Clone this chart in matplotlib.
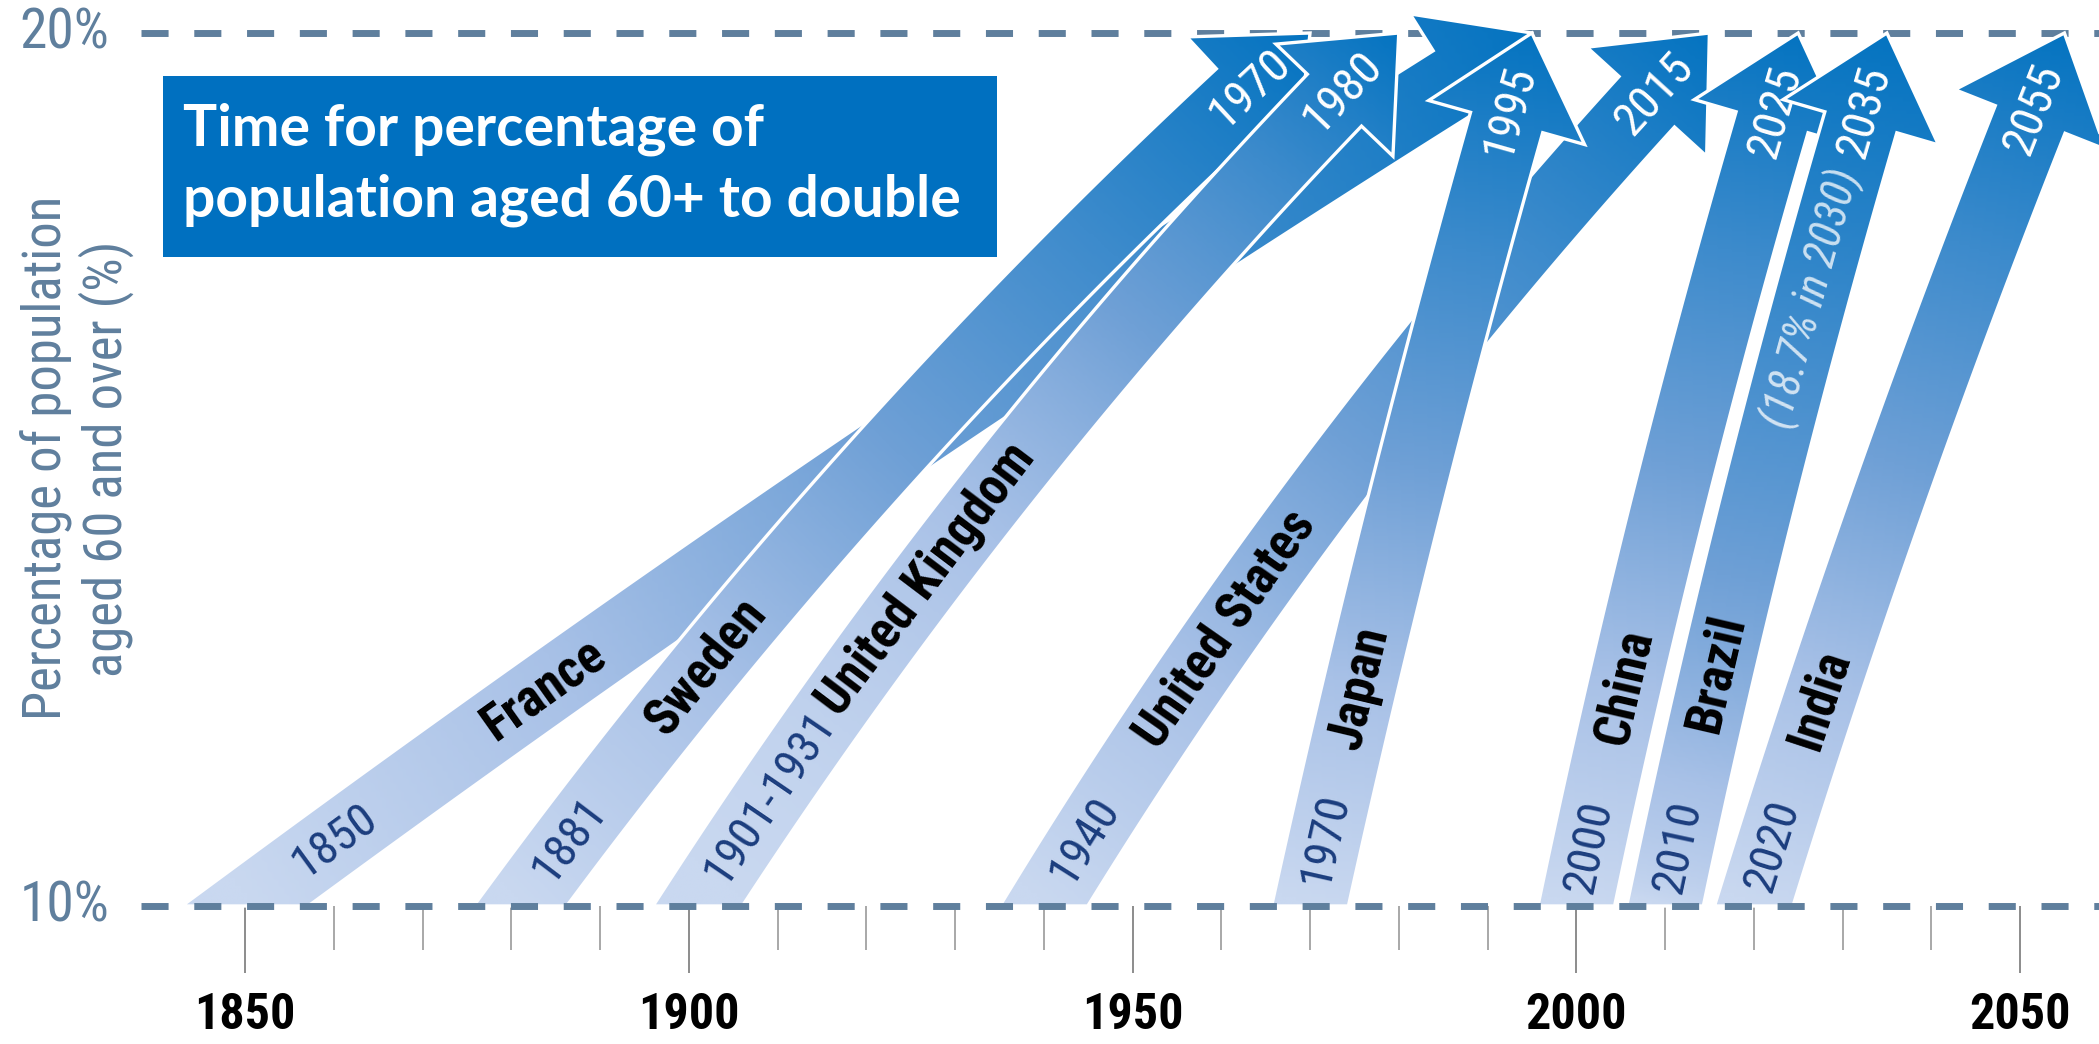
import os
import numpy as np
import matplotlib
matplotlib.use("Agg")
import matplotlib.pyplot as plt
from matplotlib import font_manager
from matplotlib.font_manager import FontProperties
from matplotlib.patches import Polygon, Rectangle
from matplotlib.colors import LinearSegmentedColormap

# ---------------------------------------------------------------- data
countries = ["France", "Sweden", "United Kingdom", "United States",
             "Japan", "China", "Brazil", "India"]
start_years = [1850, 1881, 1901, 1940, 1970, 2000, 2010, 2020]
start_labels = ["1850", "1881", "1901-1931", "1940", "1970", "2000", "2010", "2020"]
end_years = [1995, 1970, 1980, 2015, 1995, 2025, 2035, 2055]
end_labels = ["", "1970", "1980", "2015", "1995", "2025", "2035", "2055"]
start_pct, end_pct = 10, 20
note_country, note_text, note_pct = "Brazil", "(18.7% in 2030)", 16.9

major_years = [1850, 1900, 1950, 2000, 2050]
minor_years = [y for y in range(1860, 2050, 10) if y % 50]

# ---------------------------------------------------------------- layout / style
bend = [2, 5, 5, 5, 1.5, 2, 2, 2]           # degrees the arrow flattens near its tip
shade = [1.0, 1.0, 1.6, 1.0, 1.0, 1.0, 0.7, 1.0]
name_at = [12.4, 12.7, 13.72, 13.1, 12.5, 12.5, 12.65, 12.35]
year_at = [10.7, 10.72, 11.2, 10.72, 10.72, 10.68, 10.68, 10.68]

W_BODY, W_HEAD, L_HEAD = 75, 162, 93        # pixels
AXIS_BLUE = "#5f7f9d"
NAVY = "#1b3d7e"

arrow_cmap = LinearSegmentedColormap.from_list(
    "arrow", [(0, "#c9d8f0"), (0.25, "#a8c1e7"), (0.5, "#6fa0d6"),
              (0.75, "#3d8bcc"), (1.0, "#0574c1")])

# narrow face for the labels, if one is installed
_files = {os.path.basename(f.fname): f.fname for f in font_manager.fontManager.ttflist}
_narrow_sets = [
    ("LiberationSansNarrow-Regular.ttf", "LiberationSansNarrow-Bold.ttf",
     "LiberationSansNarrow-Italic.ttf", 1.0),
    ("RobotoCondensed-Regular.ttf", "RobotoCondensed-Bold.ttf",
     "RobotoCondensed-Italic.ttf", 1.0),
    ("NotoSans-Condensed.ttf", "NotoSans-CondensedBold.ttf",
     "NotoSans-CondensedItalic.ttf", 0.95),
    ("OpenSans-CondensedRegular.ttf", "OpenSans-CondensedBold.ttf",
     "OpenSans-CondensedItalic.ttf", 0.95),
    ("DejaVuSansCondensed.ttf", "DejaVuSansCondensed-Bold.ttf",
     "DejaVuSansCondensed-Oblique.ttf", 0.88),
]
NARROW = None
for reg, bold, ital, k in _narrow_sets:
    if reg in _files and bold in _files:
        NARROW = dict(regular=_files[reg], bold=_files[bold],
                      italic=_files.get(ital, _files[reg]), k=k)
        break


def font(size, kind="regular"):
    if NARROW is not None:
        return FontProperties(fname=NARROW[kind], size=size * NARROW["k"])
    return FontProperties(family="Liberation Sans",
                          weight="bold" if kind == "bold" else "normal",
                          style="italic" if kind == "italic" else "normal",
                          size=size * 0.86)


fig = plt.figure(figsize=(20.99, 10.44), dpi=100)
ax = fig.add_axes([0, 0, 1, 1])
ax.set_xlim(1822.39, 2058.9)
ax.set_ylim(8.419, 20.378)
ax.set_autoscale_on(False)
for s in ["left", "right", "top"]:
    ax.spines[s].set_visible(False)
ax.spines["bottom"].set_position(("data", start_pct))
ax.spines["bottom"].set_color("none")
ax.set_yticks([])

ax.set_xticks(major_years)
ax.set_xticks(minor_years, minor=True)
ax.tick_params(axis="x", which="major", length=48, width=1.4, color="#8c8c8c", pad=14)
ax.tick_params(axis="x", which="minor", length=32, width=1.2, color="#9a9a9a")
for lab in ax.get_xticklabels():
    lab.set_fontproperties(font(36, "bold"))
    lab.set_color("black")

yaxis_tr = ax.get_yaxis_transform()
# dashed reference lines
ax.plot([0.067, 1.0], [end_pct, end_pct], transform=yaxis_tr, color=AXIS_BLUE,
        lw=5, dashes=(3.9, 3.7), zorder=1, solid_capstyle="butt")
ax.plot([0.067, 1.0], [start_pct, start_pct], transform=yaxis_tr, color=AXIS_BLUE,
        lw=5, dashes=(3.9, 3.7), zorder=60, solid_capstyle="butt")
for v in (start_pct, end_pct):
    ax.text(0.052, v, f"{v}%", transform=yaxis_tr, ha="right", va="center",
            color=AXIS_BLUE, fontproperties=font(40))

ax.text(0.037, 0.561, "Percentage of population\naged 60 and over (%)",
        transform=ax.transAxes, rotation=90, ha="center", va="center",
        multialignment="center", linespacing=1.12, color=AXIS_BLUE,
        fontproperties=font(38))

to_disp = ax.transData.transform
to_data = ax.transData.inverted().transform


def rotate(v, deg):
    a = np.radians(deg)
    return np.array([v[0] * np.cos(a) - v[1] * np.sin(a),
                     v[0] * np.sin(a) + v[1] * np.cos(a)])


def build_arrow(start, end, bend_deg):
    p0 = to_disp((start, start_pct))
    tip = to_disp((end, end_pct))
    chord = tip - p0
    u = chord / np.hypot(*chord)
    d = rotate(u, -bend_deg)
    base = tip - d * L_HEAD
    ctrl = base - d * 0.5 * np.hypot(*(base - p0))
    t = np.linspace(0, 1, 120)[:, None]
    pts = (1 - t) ** 2 * p0 + 2 * (1 - t) * t * ctrl + t ** 2 * base
    tang = 2 * (1 - t) * (ctrl - p0) + 2 * t * (base - ctrl)
    tang = tang / np.hypot(tang[:, 0], tang[:, 1])[:, None]
    nrm = np.column_stack([-tang[:, 1], tang[:, 0]])
    left = pts + nrm * W_BODY / 2
    right = pts - nrm * W_BODY / 2
    # cut the foot of the band flat on the 10% line
    y0 = p0[1]
    d0 = tang[0]
    left0 = left[0] - d0 * (left[0][1] - y0) / d0[1]
    right0 = right[0] + d0 * (y0 - right[0][1]) / d0[1]
    left = np.vstack([left0, left])
    right = np.vstack([right0, right[right[:, 1] > y0]])
    nb = np.array([-d[1], d[0]])
    head = [base + nb * W_HEAD / 2, tip, base - nb * W_HEAD / 2]
    outline = np.vstack([left, head, right[::-1]])
    return dict(p0=p0, tip=tip, u=u, L=np.hypot(*chord), d=d, base=base,
                pts=pts, tang=tang, outline=outline)


def point_at(geo, pct):
    y = to_disp((0, pct))[1]
    i = int(np.clip(np.searchsorted(geo["pts"][:, 1], y), 0, len(geo["pts"]) - 1))
    tg = geo["tang"][i]
    return to_data(geo["pts"][i]), np.degrees(np.arctan2(tg[1], tg[0]))


for i, country in enumerate(countries):
    z = 10 + 3 * i
    geo = build_arrow(start_years[i], end_years[i], bend[i])
    poly = to_data(geo["outline"])
    patch = Polygon(poly, closed=True, fc="none", ec="white", lw=2.4,
                    joinstyle="miter", zorder=z + 0.5)
    ax.add_patch(patch)

    x_lo, y_lo = poly.min(axis=0)
    x_hi, y_hi = poly.max(axis=0)
    gx, gy = np.meshgrid(np.linspace(x_lo, x_hi, 240), np.linspace(y_lo, y_hi, 240))
    disp = to_disp(np.column_stack([gx.ravel(), gy.ravel()]))
    tt = np.clip(((disp - geo["p0"]) @ geo["u"]) / geo["L"], 0, 1) ** shade[i]
    rgba = arrow_cmap(tt).reshape(gx.shape + (4,))
    im = ax.imshow(rgba, extent=(x_lo, x_hi, y_lo, y_hi), origin="lower",
                   aspect="auto", interpolation="bilinear", zorder=z)
    im.set_clip_path(patch)

    # start year and country name along the body
    pos, ang = point_at(geo, year_at[i])
    ax.text(*pos, start_labels[i], rotation=ang, rotation_mode="anchor",
            ha="center", va="center", color=NAVY, fontproperties=font(34),
            zorder=z + 1)
    pos, ang = point_at(geo, name_at[i])
    ax.text(*pos, country, rotation=ang, rotation_mode="anchor",
            ha="center", va="center", color="black", fontproperties=font(37, "bold"),
            zorder=z + 1)

    # end year inside the arrow head
    if end_labels[i]:
        hp = to_data(geo["base"] + geo["d"] * 0.12 * L_HEAD)
        hang = np.degrees(np.arctan2(geo["d"][1], geo["d"][0]))
        ax.text(*hp, end_labels[i], rotation=hang, rotation_mode="anchor",
                ha="center", va="center", color="white", fontproperties=font(34),
                zorder=z + 1)

    if country == note_country:
        pos, ang = point_at(geo, note_pct)
        ax.text(*pos, note_text, rotation=ang, rotation_mode="anchor",
                ha="center", va="center", color="white", alpha=0.75,
                fontproperties=font(32, "italic"), zorder=z + 1)

# title panel
ax.add_patch(Rectangle((0.0777, 0.7538), 0.3973, 0.1734, transform=ax.transAxes,
                       fc="#0070c0", ec="none", zorder=70))
ax.text(0.0872, 0.8424, "Time for percentage of\npopulation aged 60+ to double",
        transform=ax.transAxes, ha="left", va="center", color="white",
        fontsize=41, fontweight="bold", family="Lato", linespacing=1.42, zorder=71)

fig.savefig("out.png", dpi=100)
